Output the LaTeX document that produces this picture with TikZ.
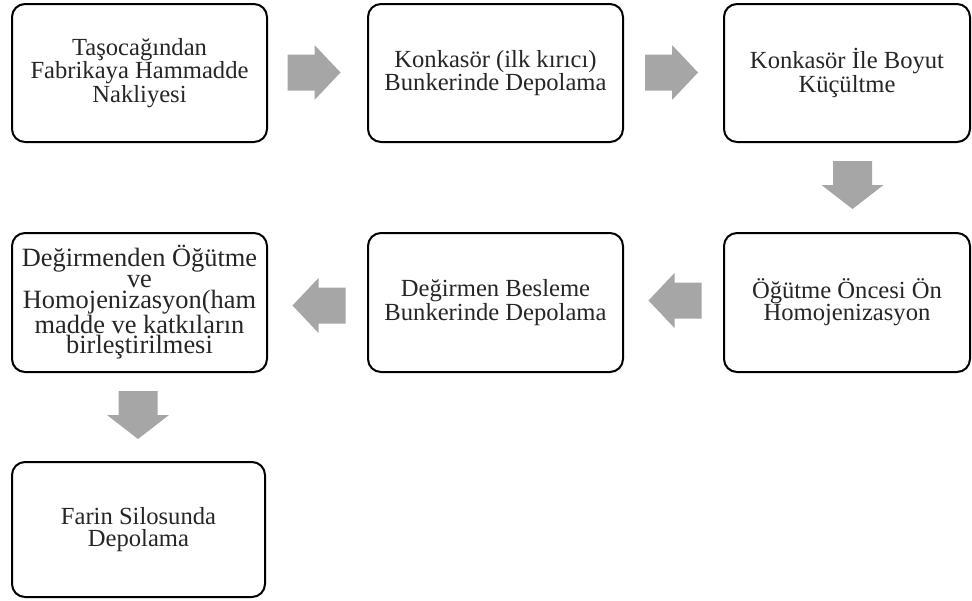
\documentclass[tikz,border=0pt]{standalone}
\usepackage{fontspec}
\setmainfont{Liberation Serif}
\usetikzlibrary{calc}
\definecolor{arrowgray}{RGB}{166,166,166}
\tikzset{
  stepbox/.style={draw=black, line width=2pt, rounded corners=13pt, fill=white,
    minimum width=255pt, minimum height=138pt, inner sep=0pt, align=center,
    font=\fontsize{24.6}{21.8}\selectfont, text=black!85},
  harrow/.pic={\fill[arrowgray] (-26.5,-18) -- (0.5,-18) -- (0.5,-27.5) -- (26.5,0) -- (0.5,27.5) -- (0.5,18) -- (-26.5,18) -- cycle;},
  varrow/.pic={\fill[arrowgray] (-24,-19.5) -- (0,-19.5) -- (0,-31) -- (24,0) -- (0,31) -- (0,19.5) -- (-24,19.5) -- cycle;}
}
\begin{document}
\begin{tikzpicture}[x=1pt,y=-1pt]
\useasboundingbox (0,0) rectangle (972,600);
\node[stepbox] (b1) at (139.5,73) {Taşocağından\\Fabrikaya Hammadde\\Nakliyesi};
\node[stepbox] (b2) at (495.5,73) {Konkasör (ilk kırıcı)\\Bunkerinde Depolama};
\node[stepbox, minimum width=246pt] (b3) at (847,73) {Konkasör İle Boyut\\Küçültme};
\node[stepbox, minimum height=139pt, font=\fontsize{26.4}{20.7}\selectfont] (b4) at (139.5,302.5) {Değirmenden Öğütme\\ve\\Homojenizasyon(ham\\madde ve katkıların\\birleştirilmesi};
\node[stepbox, minimum height=139pt] (b5) at (495.5,302.5) {Değirmen Besleme\\Bunkerinde Depolama};
\node[stepbox, minimum width=246pt, minimum height=139pt] (b6) at (847,302.5) {Öğütme Öncesi Ön\\Homojenizasyon};
\node[stepbox, minimum width=253pt, minimum height=135pt] (b7) at (138.5,529.5) {Farin Silosunda\\Depolama};
\coordinate (a12) at ($(b1.east)!0.5!(b2.west)+(-3.5,-0.5)$);
\coordinate (a23) at ($(b2.east)!0.5!(b3.west)+(-2,-0.5)$);
\coordinate (a36) at ($(b3.south)!0.5!(b6.north)+(5.5,-2.5)$);
\coordinate (a65) at ($(b6.west)!0.5!(b5.east)+(1.5,-2)$);
\coordinate (a54) at ($(b5.west)!0.5!(b4.east)+(1.5,3)$);
\coordinate (a47) at ($(b4.south)!0.5!(b7.north)+(-1,-2)$);
\pic at (a12) {harrow};
\pic at (a23) {harrow};
\pic[rotate=-90] at (a36) {varrow};
\pic[rotate=180] at (a65) {harrow};
\pic[rotate=180] at (a54) {harrow};
\pic[rotate=-90] at (a47) {varrow};
\end{tikzpicture}
\end{document}
